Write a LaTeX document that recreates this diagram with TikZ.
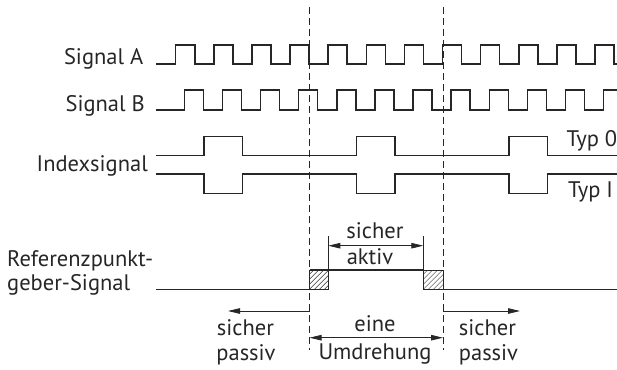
\documentclass[tikz,border=0pt]{standalone}
\usepackage{fontspec}
\setmainfont{PT Sans}
\usetikzlibrary{arrows.meta}
\begin{document}
\begin{tikzpicture}[x=1pt,y=-1pt,
  sig/.style={line width=1.5pt, draw=black!85, line join=miter},
  thinline/.style={line width=0.8pt, draw=black!85},
  guide/.style={line width=0.8pt, draw=black!85, dash pattern=on 7pt off 4pt},
  tip/.tip={Triangle[length=12pt,width=5.5pt]},
  dim/.style={thinline, tip-tip},
  onearrow/.style={thinline, -tip},
  lbl/.style={inner sep=0pt, font=\fontsize{22.5}{26}\selectfont, text=black!85},
  hatch/.style={line width=0.5pt, draw=black!80},
]
\useasboundingbox (0,0) rectangle (617,369);

% ---- guide lines
\coordinate (gLt) at (309.5,7);   \coordinate (gLb) at (309.5,350);
\coordinate (gRt) at (443,7);     \coordinate (gRb) at (443,350);
\draw[guide] (gLt) -- (gLb);
\draw[guide] (gRt) -- (gRb);

% ---- labels
\node[lbl, anchor=base east] (lA) at (143.5,64) {Signal A};
\node[lbl, anchor=base east] (lB) at (145,111) {Signal B};
\node[lbl, anchor=base east] (lI) at (148,171.5) {Indexsignal};
\node[lbl, anchor=base west] (lR1) at (7,266) {Referenzpunkt-};
\node[lbl, anchor=base west] (lR2) at (7,290) {geber-Signal};
\node[lbl, anchor=base west] (lT0) at (566.5,146) {Typ 0};
\node[lbl, anchor=base west] (lT1) at (568,197) {Typ I};

% ---- Signal A
\draw[sig] (156,64)
  \foreach \k in {0,...,11} {
    -- ({175.7+38.12*\k},64) -- ({175.7+38.12*\k},45)
    -- ({194.76+38.12*\k},45) -- ({194.76+38.12*\k},64) }
  -- (617,64);

% ---- Signal B
\draw[sig] (156,110)
  \foreach \k in {0,...,10} {
    -- ({184.3+38.12*\k},110) -- ({184.3+38.12*\k},90)
    -- ({203.36+38.12*\k},90) -- ({203.36+38.12*\k},110) }
  -- (603.6,110) -- (603.6,90) -- (617,90);

% ---- Index signal, Typ 0
\draw[sig] (156,155.5)
  \foreach \s in {204,356.5,509} {
    -- (\s,155.5) -- (\s,136.5) -- ({\s+38.3},136.5) -- ({\s+38.3},155.5) }
  -- (617,155.5);
% ---- Index signal, Typ I
\draw[sig] (156,174)
  \foreach \s in {204,356.5,509} {
    -- (\s,174) -- (\s,193.5) -- ({\s+38.3},193.5) -- ({\s+38.3},174) }
  -- (617,174);

% ---- Reference signal
\foreach \a/\b in {309.5/328.3, 423.3/443} {
  \begin{scope}
    \clip (\a,270) rectangle (\b,289.3);
    \foreach \i in {-30,-25,...,25}
      \draw[hatch] ({\a+\i},289.3) -- ++(25,-25);
  \end{scope}
  \draw[thinline] (\a,270) rectangle (\b,289.3);
}
\draw[sig] (156,289.3) -- (328.3,289.3) -- (328.3,270);
\draw[sig] (309.5,270) -- (423.3,270) -- (423.3,289.3) -- (617,289.3);

% ---- sicher aktiv
\coordinate (tA1) at (328.3,236); \coordinate (tA2) at (423.3,236);
\draw[thinline] (tA1) -- (328.3,270);
\draw[thinline] (tA2) -- (423.3,270);
\coordinate (aA1) at (328.3,245.7); \coordinate (aA2) at (423.3,245.7);
\draw[dim] (aA1) -- (aA2);
\node[lbl, anchor=base] (sa1) at (375,238) {sicher};
\node[lbl, anchor=base] (sa2) at (370,264) {aktiv};

% ---- eine Umdrehung
\coordinate (u1) at (309.5,337.7); \coordinate (u2) at (443,337.7);
\draw[dim] (u1) -- (u2);
\node[lbl, anchor=base] (eu1) at (375,331.5) {eine};
\node[lbl, anchor=base] (eu2) at (375,359.5) {Umdrehung};

% ---- sicher passiv left
\coordinate (pl0) at (309.5,311); \coordinate (pl1) at (228,311);
\draw[onearrow] (pl0) -- (pl1);
\node[lbl, anchor=base] (sp1) at (245.5,335) {sicher};
\node[lbl, anchor=base] (sp2) at (246,360) {passiv};

% ---- sicher passiv right
\coordinate (pr0) at (443,311); \coordinate (pr1) at (520,311);
\draw[onearrow] (pr0) -- (pr1);
\node[lbl, anchor=base] (sr1) at (487.5,335) {sicher};
\node[lbl, anchor=base] (sr2) at (488.5,360) {passiv};
\end{tikzpicture}
\end{document}
